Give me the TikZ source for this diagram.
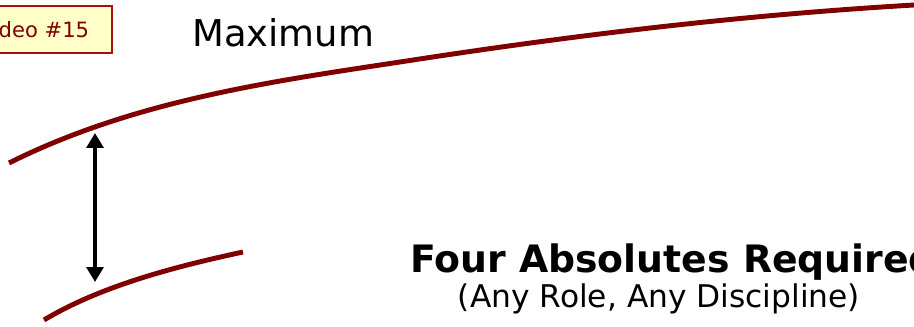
\documentclass[tikz,border=0pt]{standalone}
\usepackage{fontspec}
\setmainfont{DejaVu Sans}
\usetikzlibrary{arrows.meta}
\definecolor{curvered}{HTML}{800000}
\definecolor{notered}{HTML}{A81010}
\definecolor{notefill}{HTML}{FFFFC8}

\begin{document}
\begin{tikzpicture}[x=0.02cm,y=-0.02cm,>={Triangle[length=8.5pt,width=9.5pt]},
    curve/.style={curvered,line width=2.8pt},
    txt/.style={inner sep=0pt}]
    \useasboundingbox (0,0) rectangle (914,327);
    % --- note box, cut off by the left edge
    \node[draw=notered,fill=notefill,line width=1pt,text=curvered,anchor=north east,
      minimum height=0.94cm,inner xsep=0.46cm,font=\fontsize{12}{14}\selectfont]
      (video) at (113,5) {Video \#15};
    \node[txt,anchor=base west,font=\fontsize{21}{24}\selectfont] (maximum) at (192,47) {Maximum};
    % --- the two curves
    \draw[curve] (9,163) .. controls (139,98) and (283,80) .. (413,60)
                         .. controls (583,34) and (744,15) .. (914,5);
    \draw[curve] (44,320) .. controls (104,284) and (183,265) .. (243,252);
    % --- gap between them
    \coordinate (gaptop) at (95,133);
    \coordinate (gapbot) at (95,282);
    \draw[<->,line width=2.3pt] (gaptop) -- (gapbot);
    % --- caption
    \node[txt,anchor=base west,font=\bfseries\fontsize{21.5}{24}\selectfont] (four) at (410,273) {Four Absolutes Required};
    \node[txt,anchor=base,font=\fontsize{17.8}{20}\selectfont] (anyrole) at (659,308) {(Any Role, Any Discipline)};
\end{tikzpicture}
\end{document}
